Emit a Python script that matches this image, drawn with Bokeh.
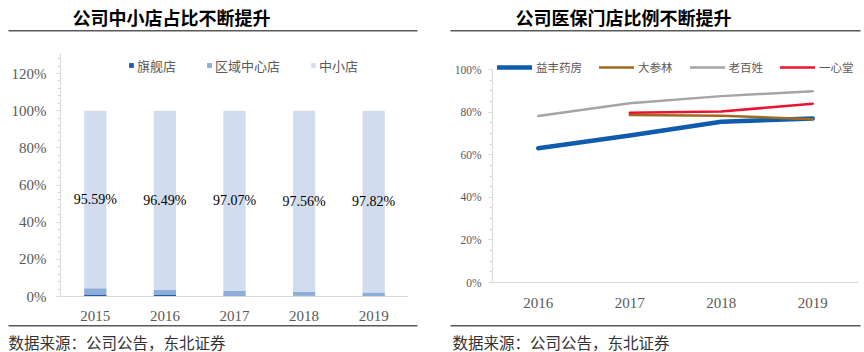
from bokeh.plotting import figure
from bokeh.layouts import row
from bokeh.models import (ColumnDataSource, Range1d, FixedTicker, LinearAxis,
                          NumeralTickFormatter, Legend, LegendItem, Label, BoxAnnotation)
from bokeh.embed import file_html
from bokeh.resources import INLINE
from bokeh.core.properties import value

# ---------------- data ----------------
years_left = [2015, 2016, 2017, 2018, 2019]
flagship = [0.011, 0.008, 0.006, 0.004, 0.002]
regional = [0.0331, 0.0271, 0.0233, 0.0204, 0.0198]
small = [0.9559, 0.9649, 0.9707, 0.9756, 0.9782]
left_series_names = ["旗舰店", "区域中心店", "中小店"]
left_ticks = [0, 0.2, 0.4, 0.6, 0.8, 1.0, 1.2]

years_right = [2016, 2017, 2018, 2019]
yifeng = [0.63, 0.69, 0.755, 0.77]
dashenlin = [None, 0.786, 0.783, 0.767]
laobaixing = [0.782, 0.842, 0.875, 0.898]
yixintang = [None, 0.797, 0.803, 0.839]
right_series_names = ["益丰药房", "大参林", "老百姓", "一心堂"]
right_ticks = [0, 0.2, 0.4, 0.6, 0.8, 1.0]

title_left = "公司中小店占比不断提升"
title_right = "公司医保门店比例不断提升"
source_text = "数据来源：公司公告，东北证券"

SERIF = "Liberation Serif"
CJK = "Noto Sans CJK SC"
AXIS_GRAY = "#D9D9D9"
LABEL_GRAY = "#595959"
W, H = 432, 352


def range_from_px(v0, p0, v1, p1, size, flip=False):
    """Range whose values v0, v1 land on pixels p0, p1 of a frame of `size` px."""
    if flip:
        p0, p1 = size - p0, size - p1
    scale = (p1 - p0) / (v1 - v0)
    start = v0 - p0 / scale
    return Range1d(start, start + size / scale)


def make_fig(xr, yr):
    p = figure(width=W, height=H, x_range=xr, y_range=yr, x_axis_type=None, y_axis_type=None,
               output_backend="svg", toolbar_location=None, min_border=0,
               min_border_left=0, min_border_right=0, min_border_top=0, min_border_bottom=0)
    p.outline_line_color = None
    p.background_fill_color = "white"
    p.border_fill_color = "white"
    return p


def add_axes(p, x_lo, x_hi, x_ticks, y_top, y_ticks, y_minor, y_label_size, x_standoff, y_standoff):
    xa = LinearAxis(fixed_location=0, bounds=(x_lo, x_hi),
                    ticker=FixedTicker(ticks=x_ticks), formatter=NumeralTickFormatter(format="0"))
    xa.axis_line_color = AXIS_GRAY
    xa.major_tick_line_color = None
    xa.minor_tick_line_color = None
    xa.major_tick_out = 0
    xa.minor_tick_out = 0
    xa.major_label_text_font = SERIF
    xa.major_label_text_font_size = "15px"
    xa.major_label_text_color = LABEL_GRAY
    xa.major_label_standoff = x_standoff
    p.add_layout(xa, "below")

    ya = LinearAxis(fixed_location=x_lo, bounds=(0, y_top),
                    ticker=FixedTicker(ticks=y_ticks, minor_ticks=y_minor),
                    formatter=NumeralTickFormatter(format="0%"))
    ya.axis_line_color = AXIS_GRAY
    ya.major_tick_line_color = AXIS_GRAY
    ya.minor_tick_line_color = AXIS_GRAY
    ya.major_tick_in = 0
    ya.major_tick_out = 4
    ya.minor_tick_in = 0
    ya.minor_tick_out = 3
    ya.major_label_text_font = SERIF
    ya.major_label_text_font_size = y_label_size
    ya.major_label_text_color = LABEL_GRAY
    ya.major_label_standoff = y_standoff
    p.add_layout(ya, "left")


def add_header_footer(p, title, title_x, rule_l, rule_r, src_x):
    p.add_layout(Label(x=title_x, y=16, x_units="canvas", y_units="canvas", text=title,
                       text_font=CJK, text_font_size="18px", text_font_style="bold",
                       text_color="black", text_baseline="middle", text_align="left"))
    for top in (29.5, 324.5):
        p.add_layout(BoxAnnotation(left=rule_l, right=rule_r, top=top, bottom=top + 1.5,
                                   left_units="canvas", right_units="canvas",
                                   top_units="canvas", bottom_units="canvas",
                                   fill_color="#595959", fill_alpha=1, line_color=None))
    p.add_layout(Label(x=src_x, y=341, x_units="canvas", y_units="canvas", text=source_text,
                       text_font=CJK, text_font_size="15.5px",
                       text_color="#333333", text_baseline="middle", text_align="left"))


# ---------------- left chart ----------------
lx_lo, lx_hi = years_left[0] - 0.5, years_left[-1] + 0.5
ly_top = 1.307
p1 = make_fig(range_from_px(lx_lo, 60, lx_hi, 408, W),
              range_from_px(0, 296, 1.2, 73, H, flip=True))
add_axes(p1, lx_lo, lx_hi, years_left, ly_top, left_ticks,
         [i * 0.04 for i in range(33)], "15px", 14, 10)

src1 = ColumnDataSource(dict(
    year=years_left, flagship=flagship, regional=regional, small=small,
    label_y=[f + r + s / 2 for f, r, s in zip(flagship, regional, small)],
    label=[f"{s * 100:.2f}%" for s in small],
))
left_colors = ["#1B5DAB", "#8DADDA", "#D1DDEF"]
bars = p1.vbar_stack(["flagship", "regional", "small"], x="year", width=0.32,
                     color=left_colors, line_color=None, source=src1)
p1.text(x="year", y="label_y", text="label", source=src1, text_font=value(SERIF),
        text_font_size="14px", text_align="center", text_baseline="middle", text_color="black")

# legend location = bottom-left corner, measured from the frame's bottom
leg1 = Legend(items=[LegendItem(label=n, renderers=[r]) for n, r in zip(left_series_names, bars)],
              orientation="horizontal", location=(128, H - 75), glyph_width=6, glyph_height=6,
              label_height=20, label_standoff=3, spacing=30, padding=0, margin=0,
              border_line_color=None, background_fill_alpha=0, label_text_font=CJK,
              label_text_font_size="13px", label_text_color=LABEL_GRAY)
p1.add_layout(leg1)
add_header_footer(p1, title_left, 72, 8, 417, 8)

# ---------------- right chart ----------------
rx_lo, rx_hi = years_right[0] - 0.5, years_right[-1] + 0.5
p2 = make_fig(range_from_px(rx_lo, 60, rx_hi, 426, W),
              range_from_px(0, 282, 1.0, 69, H, flip=True))
add_axes(p2, rx_lo, rx_hi, years_right, 1.0, right_ticks,
         [i * 0.05 for i in range(21)], "11.5px", 15, 7)

right_data = [yifeng, dashenlin, laobaixing, yixintang]
right_colors = ["#0F5BAE", "#A0691E", "#A5A5A5", "#E8132E"]
right_widths = [4.5, 2.5, 2.5, 2.5]
lines = []
for vals, c, w in zip(right_data, right_colors, right_widths):
    xs = [y for y, v in zip(years_right, vals) if v is not None]
    ys = [v for v in vals if v is not None]
    lines.append(p2.line(x=xs, y=ys, line_color=c, line_width=w, line_cap="round",
                         line_join="round"))

leg2 = Legend(items=[LegendItem(label=n, renderers=[r]) for n, r in zip(right_series_names, lines)],
              orientation="horizontal", location=(65, H - 77), glyph_width=35, glyph_height=10,
              label_height=20, label_standoff=4, spacing=17, padding=0, margin=0,
              border_line_color=None, background_fill_alpha=0, label_text_font=CJK,
              label_text_font_size="11.5px", label_text_color=LABEL_GRAY)
p2.add_layout(leg2)
add_header_footer(p2, title_right, 83, 18, 428, 20)

layout = row(p1, p2)
open("out.html", "w").write(file_html(layout, INLINE))
